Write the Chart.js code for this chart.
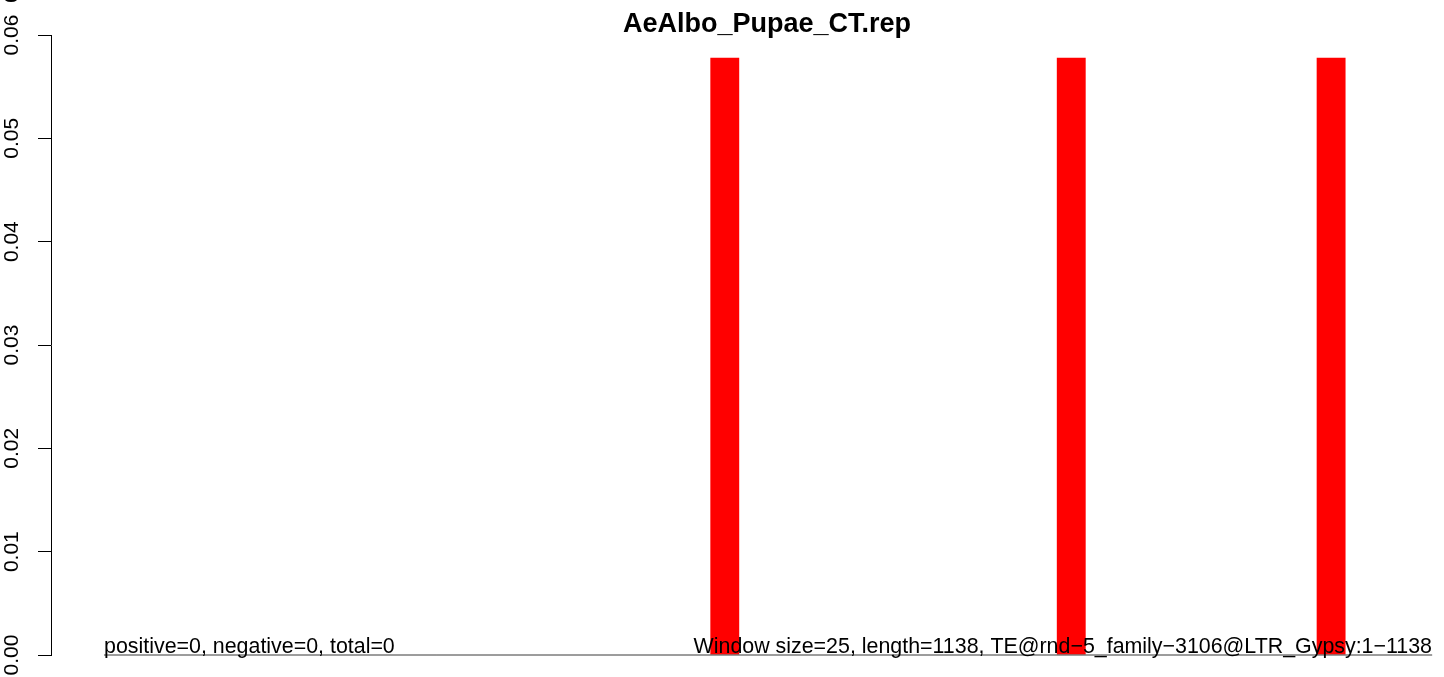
<!DOCTYPE html>
<html>
<head>
<meta charset="utf-8">
<script src="https://cdn.jsdelivr.net/npm/chart.js@4.4.1/dist/chart.umd.min.js"></script>
<style>
  html, body { margin: 0; padding: 0; background: #fff; }
  #wrap { width: 1444px; height: 677px; }
</style>
</head>
<body>
<div id="wrap"><canvas id="c" width="1444" height="677"></canvas></div>
<script>
// data
const title = 'AeAlbo_Pupae_CT.rep';
const windowSize = 25;
const seqLength = 1138;
// one value per window (46 windows of 25 over 1138)
const coverage = [
  0, 0, 0, 0, 0, 0, 0, 0, 0, 0,
  0, 0, 0, 0, 0, 0, 0, 0, 0, 0,
  0, 0.0578, 0, 0, 0, 0, 0, 0, 0, 0,
  0, 0, 0, 0.0578, 0, 0, 0, 0, 0, 0,
  0, 0, 0.0578, 0, 0, 0
];
const yTickLabels = ['0.00', '0.01', '0.02', '0.03', '0.04', '0.05', '0.06'];
const leftNote = 'positive=0, negative=0, total=0';
const rightNote = 'Window size=25, length=1138, TE@rnd\u22125_family\u22123106@LTR_Gypsy:1\u22121138';

const FONT = '"Liberation Sans", Arial, Helvetica, sans-serif';

// R-style texts: title, rotated y labels, notes along the baseline
const rText = {
  id: 'rText',
  afterDraw(chart) {
    const { ctx, scales: { y }, chartArea } = chart;
    ctx.save();
    ctx.fillStyle = '#000';

    ctx.font = 'bold 27px ' + FONT;
    ctx.textAlign = 'center';
    ctx.textBaseline = 'alphabetic';
    ctx.fillText(title, 767, 32);

    ctx.font = '21px ' + FONT;
    y.ticks.forEach((t, i) => {
      const py = y.getPixelForValue(t.value);
      ctx.save();
      ctx.translate(18, py);
      ctx.rotate(-Math.PI / 2);
      ctx.textAlign = 'center';
      ctx.fillText(yTickLabels[i], 0, 0);
      ctx.restore();
    });
    // clipped label peeking in at the top left
    ctx.save();
    ctx.translate(18, -3);
    ctx.rotate(-Math.PI / 2);
    ctx.textAlign = 'center';
    ctx.fillText('0', 0, 0);
    ctx.restore();

    ctx.font = '21.4px ' + FONT;
    ctx.textAlign = 'left';
    ctx.fillText(leftNote, 104, chartArea.bottom - 2);
    ctx.textAlign = 'right';
    ctx.fillText(rightNote, 1432, chartArea.bottom - 2);
    ctx.restore();
  }
};

new Chart(document.getElementById('c'), {
  type: 'bar',
  data: {
    datasets: [
      {
        type: 'line',
        data: [{ x: 0, y: 0 }, { x: coverage.length, y: 0 }],
        borderColor: '#3a3a3a',
        borderWidth: 1,
        pointRadius: 0,
        clip: false,
        order: 0,
      },
      {
        data: coverage.map((v, i) => ({ x: i + 0.5, y: v })),
        backgroundColor: '#ff0000',
        borderWidth: 0,
        inflateAmount: 0,
        barPercentage: 1,
        categoryPercentage: 1,
        order: 1,
      }
    ]
  },
  options: {
    responsive: false,
    animation: false,
    layout: { padding: { top: 35, bottom: 22, left: 0, right: 0 } },
    scales: {
      x: {
        type: 'linear',
        offset: false,
        min: -1.836,
        max: 46.41,
        display: false,
      },
      y: {
        min: 0,
        max: 0.06,
        ticks: { stepSize: 0.01, display: false },
        grid: {
          drawOnChartArea: false,
          drawTicks: true,
          tickLength: 13,
          tickColor: '#000',
          tickWidth: 1,
        },
        border: { display: true, color: '#000', width: 1 },
        afterFit: s => { s.width = 51; },
      }
    },
    plugins: {
      legend: { display: false },
      title: { display: false },
      tooltip: { enabled: false },
    }
  },
  plugins: [rText]
});
</script>
</body>
</html>
